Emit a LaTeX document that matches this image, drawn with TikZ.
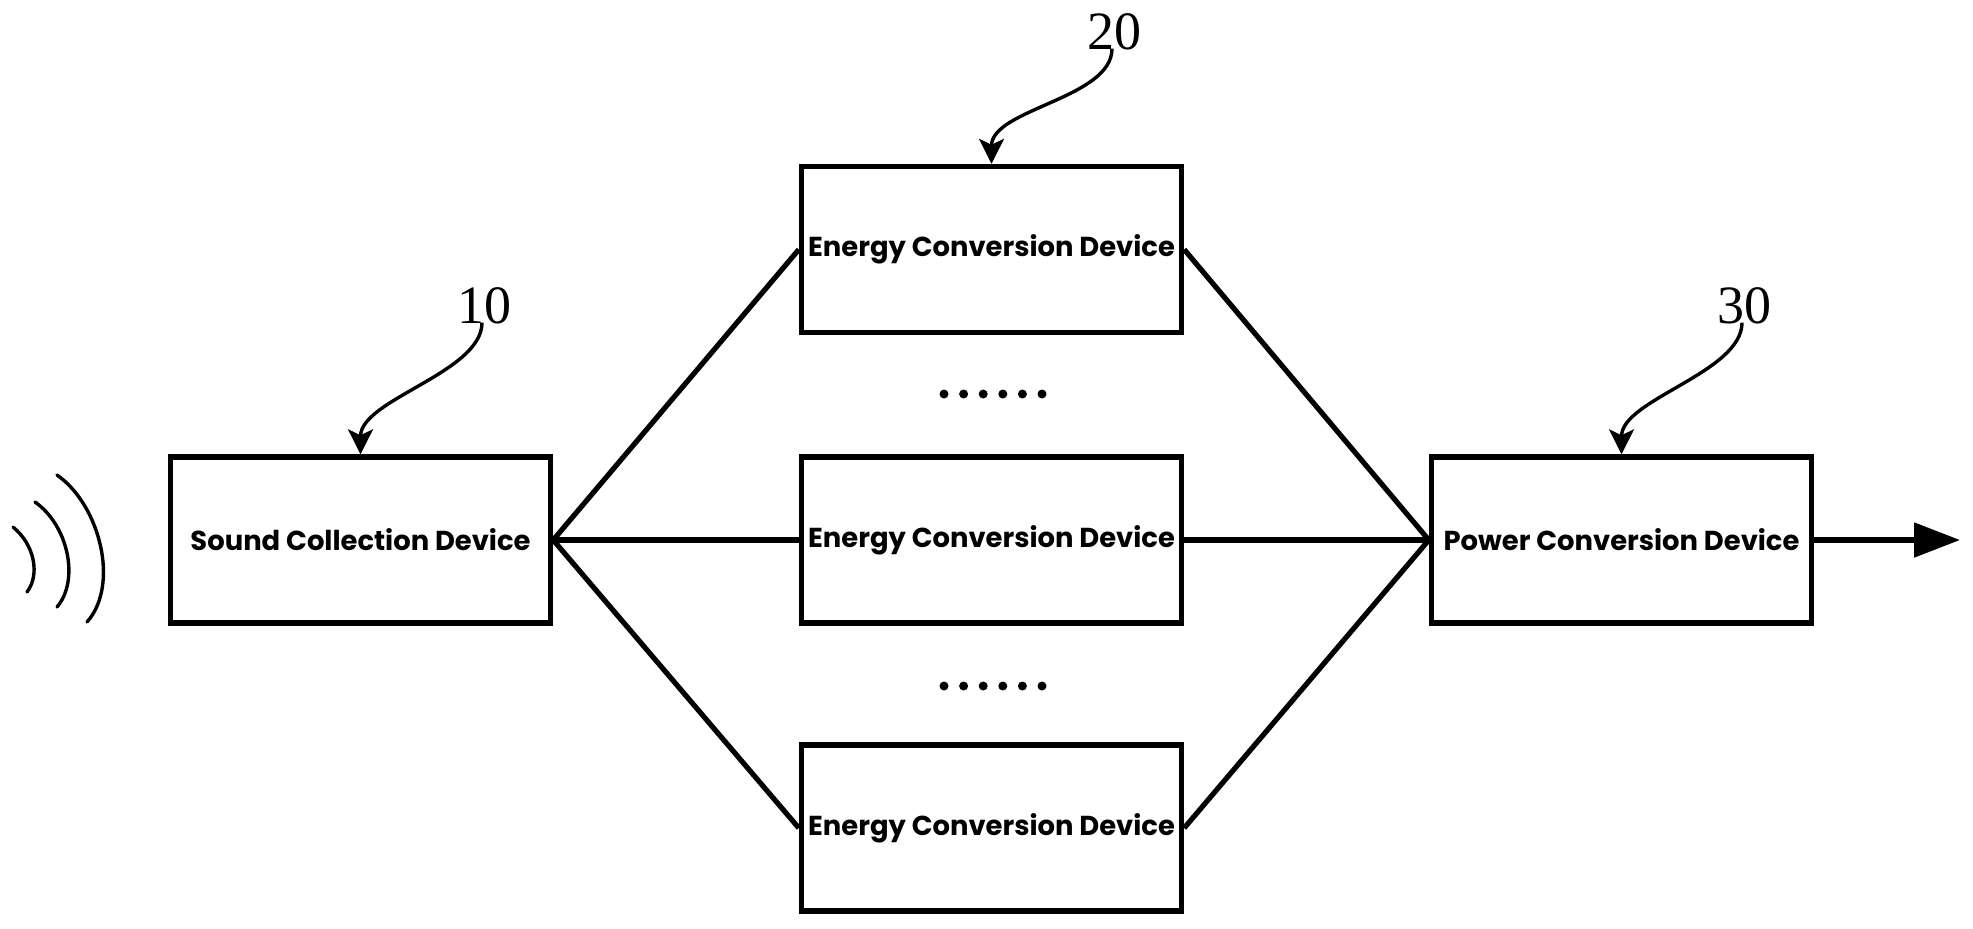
\documentclass[tikz,border=0pt]{standalone}
\usepackage{fontspec}
\setmainfont{Poppins}
\newfontfamily\numfont{Liberation Serif}
\usetikzlibrary{arrows.meta,calc}
\begin{document}
\begin{tikzpicture}[x=0.5pt,y=0.5pt,
  box/.style={draw,line width=2.7pt,minimum width=190pt,minimum height=83pt,inner sep=0pt,font=\bfseries\fontsize{13.7}{16}\selectfont},
  conn/.style={line width=2.6pt},
  num/.style={inner sep=0pt,font=\numfont\fontsize{27}{30}\selectfont},
  lbl/.style={line width=1.7pt,-{Stealth[length=12.5pt,width=12.5pt,inset=3pt]}},
  wave/.style={line width=1.7pt,line cap=round}]
\fill[white] (0,0) rectangle (1973,-928);
\path[use as bounding box] (0,0) rectangle (1973,-928);

% boxes
\node[box] (sc) at (360.5,-540) {Sound Collection Device};
\node[box] (e1) at (991.5,-249.5) {Energy Conversion Device};
\node[box] (e2) at (991.5,-540) {Energy Conversion Device};
\node[box] (e3) at (991.5,-828) {Energy Conversion Device};
\node[box] (pc) at (1621.5,-540) {Power Conversion Device};

% connectors
\draw[conn] (sc.east) -- (e1.west);
\draw[conn] (sc.east) -- (e2.west);
\draw[conn] (sc.east) -- (e3.west);
\draw[conn] (e1.east) -- (pc.west);
\draw[conn] (e2.east) -- (pc.west);
\draw[conn] (e3.east) -- (pc.west);
\coordinate (out) at (1960,-540);
\draw[conn,-{Triangle[length=23pt,width=17pt]}] (pc.east) -- (out);

% dots
\foreach \i in {0,...,5} {
  \fill (944+\i*19.6,-394) circle (4.5);
  \fill (944+\i*19.6,-686) circle (4.5);
}

% reference numerals
\node[num] (l10) at (484,-306) {10};
\node[num] (l20) at (1114,-32) {20};
\node[num] (l30) at (1744,-306) {30};
\draw[lbl] ($(l10.south)+(-2,2)$) .. controls +(0,-50) and +(0,55) .. (sc.north);
\draw[lbl] ($(l20.south)+(-2,2)$) .. controls +(0,-50) and +(0,55) .. (e1.north);
\draw[lbl] ($(l30.south)+(-2,2)$) .. controls +(0,-50) and +(0,55) .. (pc.north);

% sound waves
\draw[wave] (13,-527) .. controls (35,-545) and (40,-575) .. (27,-592);
\draw[wave] (35,-502) .. controls (68,-525) and (80,-580) .. (57,-607);
\draw[wave] (57,-475) .. controls (100,-505) and (120,-585) .. (87,-622);
\end{tikzpicture}
\end{document}
